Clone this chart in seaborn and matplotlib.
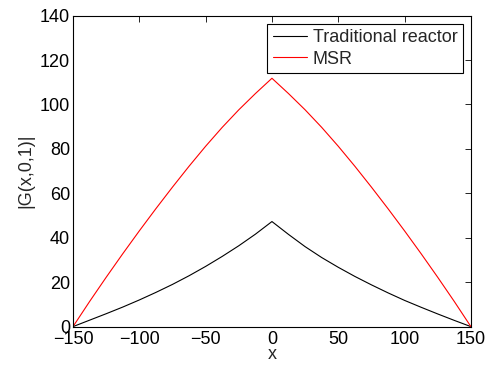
import matplotlib

matplotlib.use("Agg")

import matplotlib.pyplot as plt
import pandas as pd
import seaborn as sns

# positions along x and |G(x,0,1)|
x_vals = [-150, -137.5, -125, -112.5, -100, -87.5, -75, -62.5, -50, -37.5, -25, -12.5, 0,
          12.5, 25, 37.5, 50, 62.5, 75, 87.5, 100, 112.5, 125, 137.5, 150]
traditional = [0, 2.9, 5.8, 8.8, 12.0, 15.4, 19.0, 22.9, 27.1, 31.6, 36.4, 41.6, 47.3,
               41.5, 36.0, 31.1, 26.7, 22.6, 18.8, 15.2, 11.8, 8.7, 5.7, 2.8, 0]
msr = [0, 11.3, 22.2, 32.8, 43.1, 53.1, 62.8, 72.2, 81.2, 89.7, 97.6, 104.9, 111.8,
       104.9, 97.6, 89.7, 81.2, 72.2, 62.8, 53.1, 43.1, 32.8, 22.2, 11.3, 0]

sns.set_style("white")
plt.rcParams["font.family"] = ["Liberation Sans", "DejaVu Sans"]

df = pd.DataFrame({"x": x_vals, "Traditional reactor": traditional, "MSR": msr})

fig = plt.figure(figsize=(4.9, 3.72), dpi=100)
ax = fig.add_axes([0.149, 0.122, 0.812, 0.836])
sns.lineplot(data=df, x="x", y="Traditional reactor", color="black", linewidth=0.8,
             label="Traditional reactor", ax=ax)
sns.lineplot(data=df, x="x", y="MSR", color="red", linewidth=0.8, label="MSR", ax=ax)

ax.set_xlim(-150, 150)
ax.set_ylim(0, 140)
ax.set_xticks(range(-150, 151, 50))
ax.set_yticks(range(0, 141, 20))
ax.tick_params(direction="in", top=True, right=True, length=4, width=0.6,
               labelsize=13, colors="black", pad=2)
ax.tick_params(axis="x", pad=3)
for side in ax.spines.values():
    side.set_color("black")
    side.set_linewidth(0.8)
ax.set_xlabel("x", fontsize=13, labelpad=-1)
ax.set_ylabel("|G(x,0,1)|", fontsize=13, labelpad=4)

leg = ax.legend(loc="upper right", fontsize=13, frameon=True, fancybox=False,
                edgecolor="black", framealpha=1, borderpad=0.3, handlelength=1.9,
                handletextpad=0.3, labelspacing=0.25, borderaxespad=0.45)
leg.get_frame().set_linewidth(0.8)

fig.savefig("out.png", dpi=100)
